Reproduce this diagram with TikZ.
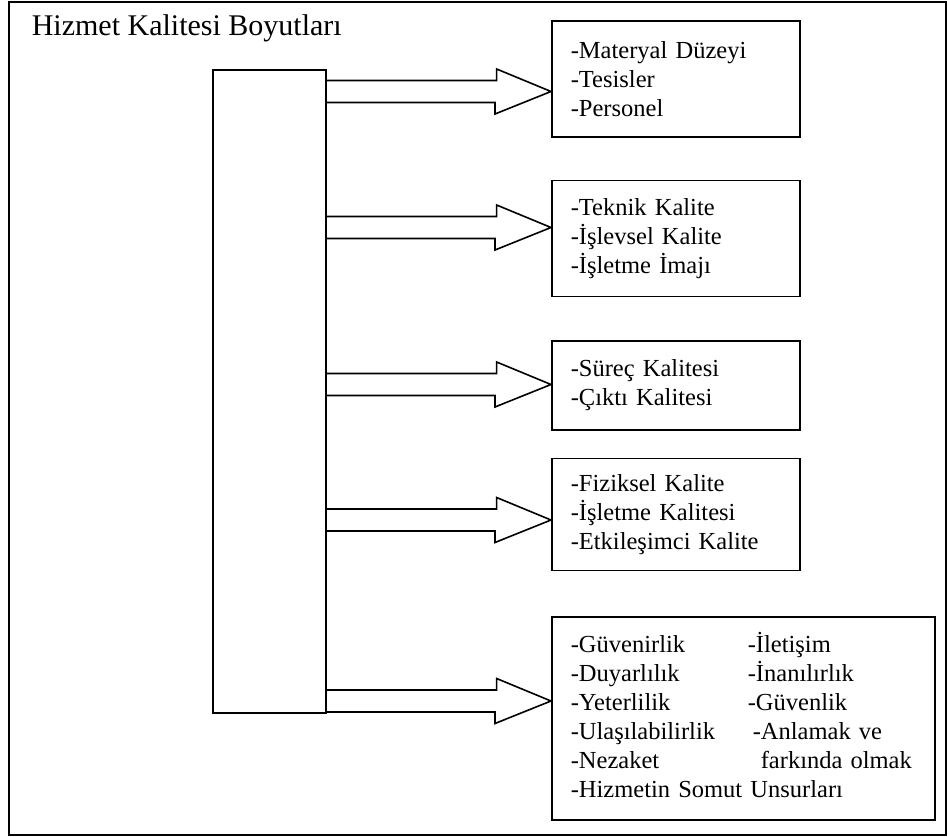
\documentclass[tikz,border=0pt]{standalone}
\usepackage{fontspec}
\setmainfont{Liberation Serif}
\usetikzlibrary{positioning}

\begin{document}
\begin{tikzpicture}[
            x=1pt, y=-1pt,                     % pixel units, y grows downwards
            line width=1.6pt,                  % thickness of all lines
            every node/.style={font=\fontsize{24.5}{29}\selectfont},
            itembox/.style={draw, anchor=north west, text width=210pt,
              inner xsep=19pt, inner ysep=0pt, align=left, minimum width=248pt},
            blockarrow/.style={draw, line join=miter}
          ]
          \useasboundingbox (0,0) rectangle (948,837);
          \draw (9,2) rectangle (946,835);

          \node[anchor=base west, inner sep=0pt, font=\fontsize{30}{34}\selectfont] (title) at (31,36) {Hizmet Kalitesi Boyutları};
          \node[draw, anchor=north west, minimum width=113pt, minimum height=643pt, inner sep=0pt] (spine) at (212,69) {};

          \node[itembox, minimum height=116pt] (mat) at (551,20) {-Materyal Düzeyi\\-Tesisler\\-Personel};
          \node[itembox, minimum height=116pt, below=42pt of mat.south west, anchor=north west] (tek) {-Teknik Kalite\\-İşlevsel Kalite\\-İşletme İmajı};
          \node[itembox, minimum height=89pt, below=43pt of tek.south west, anchor=north west] (sur) {-Süreç Kalitesi\\-Çıktı Kalitesi};
          \node[itembox, minimum height=112pt, below=27pt of sur.south west, anchor=north west] (fiz) {-Fiziksel Kalite\\-İşletme Kalitesi\\-Etkileşimci Kalite};
          \node[itembox, text width=345pt, minimum width=383pt, minimum height=203pt,
                below=45pt of fiz.south west, anchor=north west] (guv) {%
            \begin{tabular}{@{}p{177pt}@{}l@{}}
              -Güvenirlik & -İletişim\\
              -Duyarlılık & -İnanılırlık\\
              -Yeterlilik & -Güvenlik\\
              -Ulaşılabilirlik & \hspace{5pt}-Anlamak ve\\
              -Nezaket & \hspace{13pt}farkında olmak\\
              \multicolumn{2}{@{}l@{}}{-Hizmetin Somut Unsurları}
            \end{tabular}};

          % block arrows from the spine to each box
          \foreach \ay/\bx in {91.5/mat, 227.5/tek, 384.5/sur, 520/fiz, 701/guv}
            \draw[blockarrow] (spine.east |- 0,\ay) ++(0,-11) -- ++(170,0) -- ++(0,-11.5)
              -- (\bx.west |- 0,\ay) -- ++(-56,22.5) -- ++(0,-11.5) -- (spine.east |- 0,\ay+11);
        \end{tikzpicture}
\end{document}
